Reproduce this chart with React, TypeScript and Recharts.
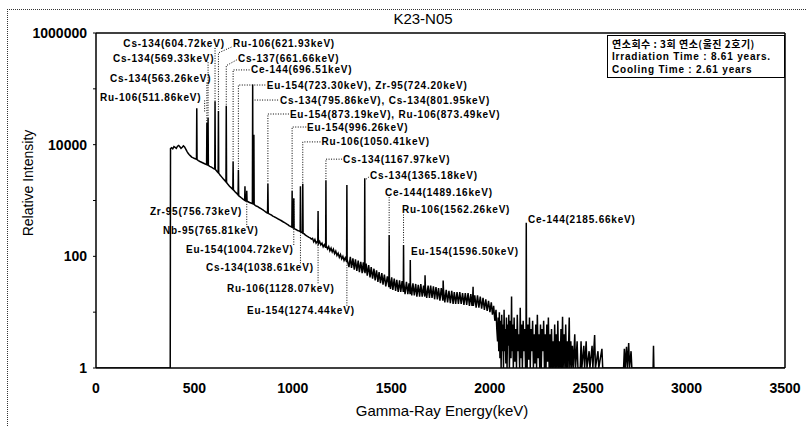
import React from 'react';
import { ComposedChart, Line, Scatter, XAxis, YAxis, ReferenceLine } from 'recharts';

// Gamma spectrum: [energy keV, relative intensity]
const lowRegion: number[][] = [
  [0, 1], [377, 1], [378.5, 8500], [384, 8800], [390, 8400], [396, 9200], [402, 8900], [408, 8600],
  [414, 9400], [420, 9700], [426, 9200], [432, 8600], [438, 9000], [444, 9500], [450, 9100],
  [456, 8300], [462, 7600], [468, 7000], [474, 6600], [480, 6300], [486, 6000], [492, 5850],
  [498, 5700], [504, 5600], [510.4, 5500], [511.9, 45000], [513.4, 5400], [520, 5200], [528, 5000],
  [536, 4850], [544, 4700], [552, 4550], [561.8, 4400], [563.3, 25000], [564.8, 4350], [567.8, 4300],
  [569.3, 30000], [570.8, 4250], [578, 4100], [586, 3950], [594, 3800],
];
const peakRegion: number[][] = [
  [600, 3700], [603.3, 3650], [604.7, 60000], [606.2, 3600], [612, 3400], [617, 3250], [620.5, 3150],
  [621.9, 40000], [623.4, 3100], [630, 2850], [638, 2650], [646, 2450], [653, 2300], [660.2, 2150],
  [661.7, 50000], [663.2, 2100], [670, 1950], [678, 1800], [686, 1700], [695, 1580], [696.5, 5000],
  [698, 1560], [705, 1450], [712, 1370], [721.8, 1250], [723.3, 3500], [724.8, 1230], [731, 1170],
  [738, 1120], [745, 1070], [750, 1040], [755.3, 1010], [756.7, 1800], [758.2, 1000], [764.3, 980],
  [765.8, 1500], [767.3, 970], [773, 950], [780, 920], [787, 900], [794.4, 880], [795.9, 120000],
  [797.4, 870], [800.5, 860], [802, 15000], [803.5, 850], [810, 810],
];
const midRegion: number[][] = [
  [817, 790], [824, 770], [830, 740], [836, 725], [842, 700], [848, 680], [854, 655], [860, 630],
  [866, 610], [871.5, 595], [873.2, 2000], [875, 590], [880, 575], [886, 560], [892, 548], [898, 525],
  [904, 515], [910, 500], [916, 490], [922, 472], [928, 462], [934, 450], [940, 438], [946, 425],
  [952, 412], [958, 400], [964, 390], [970, 376], [976, 366], [982, 352], [988, 344], [994.8, 333],
  [996.3, 1500], [998, 330], [1003.3, 322], [1004.7, 1100], [1006.2, 318], [1012, 306], [1018, 300],
  [1024, 290], [1030, 286], [1037.2, 278], [1038.6, 1800], [1040, 276], [1049, 262], [1050.4, 2000],
  [1052, 258], [1058, 252], [1064, 240], [1070, 232], [1076, 226], [1082, 218], [1088, 214], [1094, 204],
  [1100, 210], [1106, 182], [1112, 200], [1118, 172], [1126.7, 190], [1128.1, 650], [1129.5, 168],
  [1136, 185], [1142, 160], [1148, 172], [1154, 148], [1160, 162], [1166.6, 142], [1168, 2300],
  [1169.4, 155], [1176, 136], [1182, 150], [1188, 126], [1194, 140], [1200, 120], [1206, 134],
  [1212, 112], [1218, 124], [1224, 104], [1230, 114], [1236, 96], [1242, 108], [1248, 90], [1254, 100],
  [1260, 84], [1266, 94], [1273, 80], [1274.4, 1900], [1275.8, 88], [1280, 76],
];
const highRegion: number[][] = [
  [1285, 64], [1292, 98], [1298, 62], [1305, 92], [1312, 58], [1318, 88], [1325, 55], [1332, 84],
  [1338, 52], [1345, 80], [1352, 50], [1358, 78], [1364, 52], [1365.2, 2500], [1366.5, 50], [1372, 74],
  [1378, 45], [1385, 70], [1392, 42], [1398, 64], [1405, 40], [1412, 60], [1418, 37], [1425, 56],
  [1432, 35], [1438, 52], [1445, 33], [1452, 50], [1458, 31], [1465, 47], [1472, 29], [1480, 44],
  [1488, 28], [1489.2, 240], [1490.5, 40], [1496, 26], [1502, 42], [1508, 25], [1515, 40], [1522, 24],
  [1528, 38], [1535, 23], [1542, 37], [1548, 23], [1555, 36], [1561, 23], [1562.3, 160], [1563.5, 34],
  [1570, 21], [1577, 35], [1584, 21], [1590, 33], [1595.5, 21], [1596.5, 86], [1597.5, 32], [1604, 20],
  [1610, 33], [1617, 20], [1624, 32], [1630, 19], [1637, 31], [1644, 19], [1650, 32], [1657, 19],
  [1664, 30], [1670, 19], [1671.5, 46], [1673, 29], [1680, 18], [1687, 30], [1694, 18], [1700, 30],
  [1707, 18], [1714, 29], [1720, 17], [1727, 28], [1734, 17], [1740, 27], [1747, 16], [1754, 27],
  [1762, 16], [1763.5, 37], [1765, 26], [1772, 15], [1779, 25], [1786, 15], [1793, 24], [1800, 14.5],
  [1807, 24], [1814, 14], [1820, 23], [1827, 14], [1834, 23], [1841, 14], [1848, 23], [1855, 14],
  [1862, 22], [1869, 13.5], [1876, 22], [1883, 13.5], [1890, 22], [1897, 13], [1904, 21], [1910, 13],
  [1914, 20], [1915.5, 28.5], [1917, 13], [1924, 20], [1931, 12], [1938, 20], [1945, 12], [1952, 19],
  [1959, 11.5], [1966, 18], [1973, 11], [1980, 17], [1987, 10.5], [1994, 16], [2001, 10], [2008, 15],
  [2014, 9], [2020, 13], [2026, 7], [2032, 11], [2036, 5],
];
const tailRegion: number[][] = [
  [2040, 3], [2043, 8], [2046, 2], [2049, 10], [2052, 1.5], [2055, 7], [2058, 1], [2061, 9], [2064, 2],
  [2067, 6], [2070, 1], [2073, 11], [2076, 2], [2079, 5], [2082, 1.2], [2085, 8], [2088, 1], [2091, 6],
  [2094, 2.5], [2097, 9], [2100, 1], [2104, 7], [2108, 1.5], [2111, 19], [2113, 2], [2117, 6], [2120, 1],
  [2124, 8], [2128, 1.3], [2132, 5], [2136, 1], [2140, 9], [2144, 2], [2148, 4], [2152, 1], [2155, 12],
  [2158, 1.5], [2162, 6], [2166, 1], [2170, 7], [2174, 2], [2178, 5], [2182, 1], [2184.5, 4],
  [2185.7, 400], [2187, 3], [2190, 1], [2194, 6], [2198, 1.4], [2202, 8], [2206, 1], [2210, 5],
  [2214, 2], [2218, 7], [2222, 1], [2226, 4], [2230, 1.2], [2234, 6], [2238, 1], [2242, 9], [2246, 1.5],
  [2250, 4], [2254, 1], [2258, 6], [2262, 1], [2266, 5], [2270, 2], [2274, 7], [2278, 1], [2282, 4],
  [2286, 1], [2290, 6], [2294, 1.3], [2298, 8], [2302, 1], [2306, 4], [2310, 1], [2314, 5], [2318, 1],
  [2322, 3], [2326, 1], [2330, 6], [2334, 1], [2338, 4], [2342, 1], [2346, 7], [2350, 1], [2354, 3],
  [2358, 1], [2362, 5], [2366, 1], [2370, 8.3], [2373, 1], [2378, 4], [2382, 1], [2386, 6], [2390, 1],
  [2394, 3], [2398, 1], [2404, 8], [2407, 1], [2412, 3], [2416, 1], [2420, 2.5], [2425, 1], [2432, 4],
  [2436, 1], [2444, 3], [2448, 1], [2460, 1], [2464, 3], [2468, 1], [2478, 2.5], [2482, 1], [2490, 3],
  [2494, 1], [2505, 2], [2509, 1], [2520, 2.5], [2524, 1], [2533, 3.9], [2537, 1], [2550, 2], [2554, 1],
  [2570, 2.2], [2574, 1], [2600, 1], [2680, 1], [2684, 2.2], [2688, 1], [2695, 2.4], [2699, 1],
  [2706, 2.8], [2710, 1], [2718, 2], [2722, 1], [2830, 1], [2832, 2.5], [2834, 1], [3500, 1],
];

// Peak labels: text, energy of text start, intensity of text centre
const peakLabels: [string, number, number][] = [
  ['Cs-134(604.72keV)', 139, 650000],
  ['Ru-106(621.93keV)', 696, 650000],
  ['Cs-134(569.33keV)', 86, 350000],
  ['Cs-137(661.66keV)', 721, 350000],
  ['Ce-144(696.51keV)', 787, 218000],
  ['Cs-134(563.26keV)', 71, 155000],
  ['Eu-154(723.30keV), Zr-95(724.20keV)', 867, 117000],
  ['Ru-106(511.86keV)', 20, 71000],
  ['Cs-134(795.86keV), Cs-134(801.95keV)', 935, 63000],
  ['Eu-154(873.19keV), Ru-106(873.49keV)', 985, 35400],
  ['Eu-154(996.26keV)', 1072, 20700],
  ['Ru-106(1050.41keV)', 1146, 11200],
  ['Cs-134(1167.97keV)', 1255, 5500],
  ['Cs-134(1365.18keV)', 1392, 2780],
  ['Ce-144(1489.16keV)', 1468, 1380],
  ['Ru-106(1562.26keV)', 1554, 676],
  ['Ce-144(2185.66keV)', 2194, 460],
  ['Eu-154(1596.50keV)', 1600, 121],
  ['Zr-95(756.73keV)', 274, 630],
  ['Nb-95(765.81keV)', 340, 288],
  ['Eu-154(1004.72keV)', 457, 135],
  ['Cs-134(1038.61keV)', 559, 62.6],
  ['Ru-106(1128.07keV)', 665, 26.8],
  ['Eu-154(1274.44keV)', 767, 10.9],
];

// Dotted leader polylines from labels to peaks: [energy, intensity] points
const leaders: number[][][] = [
  [[604.72, 540000], [604.72, 60000]],
  [[688, 560000], [621.93, 440000], [621.93, 40000]],
  [[569.33, 300000], [569.33, 30000]],
  [[715, 330000], [661.66, 260000], [661.66, 50000]],
  [[780, 218000], [696.51, 218000], [696.51, 5000]],
  [[563.26, 130000], [563.26, 25000]],
  [[860, 117000], [723.3, 117000], [723.3, 3500]],
  [[552, 62000], [552, 38000]],
  [[925, 63000], [805, 63000]],
  [[980, 35400], [873.19, 35400], [873.19, 2000]],
  [[1068, 20700], [996.26, 20700], [996.26, 1500]],
  [[1140, 11200], [1050.41, 11200], [1050.41, 2000]],
  [[1250, 5500], [1167.97, 5500], [1167.97, 2300]],
  [[1387, 2650], [1368, 2350]],
  [[1489.16, 1150], [1489.16, 260]],
  [[1562.26, 560], [1562.26, 175]],
  [[765.81, 330], [765.81, 950]],
  [[1004.72, 160], [1004.72, 1100]],
  [[1038.61, 75], [1038.61, 1800]],
  [[1128.07, 33], [1128.07, 180]],
  [[1274.44, 13], [1274.44, 85]],
];

const xTicks = [0, 500, 1000, 1500, 2000, 2500, 3000, 3500];
const yTicks = [1, 10, 100, 1000, 10000, 100000, 1000000];
const yLabelled = [1, 100, 10000, 1000000];
const infoLines = ['연소회수 : 3회 연소(울진 2호기)', 'Irradiation Time : 8.61 years.', 'Cooling Time : 2.61 years'];

const spectrum = [...lowRegion, ...peakRegion, ...midRegion, ...highRegion, ...tailRegion].map(([x, y]) => ({ x, y }));
const labelData = peakLabels.map(([text, x, y]) => ({ text, x, y }));

const LabelShape = (props: any) => {
  const { cx, cy, payload } = props;
  if (cx == null || cy == null) return null;
  return (
    <text x={cx} y={cy} dominantBaseline="central" fontSize={10} fontWeight="bold"
      letterSpacing={0.8} fontFamily="Arial, 'Liberation Sans', sans-serif" fill="#000">
      {payload.text}
    </text>
  );
};

export default function App() {
  return (
    <div style={{ position: 'relative', width: 807, height: 427, background: '#fff', overflow: 'hidden', fontFamily: "Arial, 'Liberation Sans', sans-serif" }}>
      <style>{`body{margin:0;overflow:hidden;background:#fff}`}</style>
      <div style={{ position: 'absolute', left: 7, top: 9, width: 900, height: 500, borderLeft: '1px dotted #333', borderTop: '1px dotted #333' }} />
      <div style={{ position: 'absolute', left: 0, top: 0 }}>
        <ComposedChart width={807} height={427} margin={{ top: 33, right: 22, bottom: 29, left: 36 }}>
          <XAxis dataKey="x" type="number" domain={[0, 3500]} ticks={xTicks} interval={0} allowDataOverflow
            height={30} tickLine={false} tickSize={0} tickMargin={15}
            axisLine={{ stroke: '#000', strokeWidth: 1.5 }}
            tick={{ fontSize: 14, fontWeight: 'bold', fill: '#000', fontFamily: "Arial, 'Liberation Sans', sans-serif" }} />
          <YAxis type="number" scale="log" domain={[1, 1000000]} ticks={yTicks} interval={0} allowDataOverflow
            width={60} tickSize={3} tickMargin={6} tickLine={{ stroke: '#000' }}
            axisLine={{ stroke: '#000', strokeWidth: 1.5 }}
            tickFormatter={(v: number) => (yLabelled.includes(v) ? String(v) : '')}
            tick={{ fontSize: 14, fontWeight: 'bold', fill: '#000', fontFamily: "Arial, 'Liberation Sans', sans-serif" }} />
          <ReferenceLine y={1000000} stroke="#000" strokeWidth={1.5} />
          <ReferenceLine x={3500} stroke="#000" strokeWidth={1.5} />
          <Line data={spectrum} dataKey="y" type="linear" stroke="#000" strokeWidth={1.5} dot={false} activeDot={false} isAnimationActive={false} />
          {leaders.map((pts, i) => (
            <Line key={'ld' + i} data={pts.map(([x, y]) => ({ x, y }))} dataKey="y" type="linear" stroke="#000"
              strokeWidth={1} strokeDasharray="1 1.5" dot={false} activeDot={false} isAnimationActive={false} />
          ))}
          <Scatter data={labelData} dataKey="y" shape={LabelShape} isAnimationActive={false} />
        </ComposedChart>
      </div>
      <div style={{ position: 'absolute', left: 423, top: 18, transform: 'translate(-50%,-50%)', fontSize: 15, whiteSpace: 'nowrap' }}>K23-N05</div>
      <div style={{ position: 'absolute', left: 28, top: 183, transform: 'translate(-50%,-50%) rotate(-90deg)', fontSize: 14, whiteSpace: 'nowrap' }}>Relative Intensity</div>
      <div style={{ position: 'absolute', left: 442, top: 410, transform: 'translate(-50%,-50%)', fontSize: 15, whiteSpace: 'nowrap' }}>Gamma-Ray Energy(keV)</div>
      <div style={{ position: 'absolute', left: 607, top: 35, width: 178, height: 43, boxSizing: 'border-box', border: '1px solid #000', background: '#fff', padding: '1px 4px', fontSize: 10, fontWeight: 'bold', lineHeight: '13px', letterSpacing: 0.8, whiteSpace: 'nowrap' }}>
        {infoLines.map((t, i) => (
          <div key={i} style={{ fontFamily: i === 0 ? "'Noto Sans CJK KR', sans-serif" : "Arial, 'Liberation Sans', sans-serif", letterSpacing: i === 0 ? 0.5 : 0.8 }}>{t}</div>
        ))}
      </div>
    </div>
  );
}
